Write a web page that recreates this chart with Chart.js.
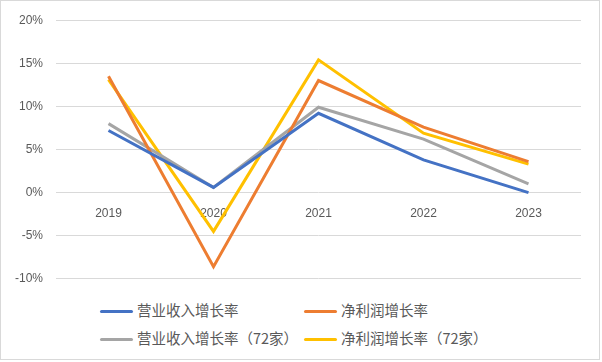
<!doctype html>
<html lang="zh">
<head>
<meta charset="utf-8">
<title>增长率</title>
<script src="https://cdn.jsdelivr.net/npm/chart.js@4.4.0/dist/chart.umd.min.js"></script>
<style>
  html, body { margin: 0; padding: 0; background: #fff; }
  #box { position: relative; width: 598px; height: 358px; border: 1px solid #d9d9d9; box-sizing: content-box; }
  #wrap { position: absolute; left: -1px; top: -1px; width: 602px; height: 299px; }
  .lg { position: absolute; font: 14.5px "Noto Sans CJK SC", sans-serif; color: #595959; white-space: nowrap; line-height: 18px; }
  .lg i { display: inline-block; width: 33px; height: 3px; border-radius: 2px; vertical-align: middle; margin-right: 4px; position: relative; top: -1px; }
</style>
</head>
<body>
<div id="box">
  <div id="wrap"><canvas id="c" width="602" height="299"></canvas></div>
  <div id="legend"></div>
</div>
<script>
var years = ["2019", "2020", "2021", "2022", "2023"];
var names = ["营业收入增长率", "净利润增长率", "营业收入增长率（72家）", "净利润增长率（72家）"];
var colors = ["#4472C4", "#ED7D31", "#A5A5A5", "#FFC000"];
var revenue = [7.2, 0.6, 9.2, 3.8, 0.0];
var profit = [13.5, -8.6, 13.0, 7.6, 3.6];
var revenue72 = [8.0, 0.6, 9.9, 6.2, 1.0];
var profit72 = [13.1, -4.5, 15.4, 6.9, 3.3];
var yTicks = [-10, -5, 0, 5, 10, 15, 20];

var series = [revenue, profit, revenue72, profit72];
var datasets = series.map(function(d, i) {
  return {
    label: names[i],
    data: d,
    borderColor: colors[i],
    backgroundColor: colors[i],
    borderWidth: 3,
    pointRadius: 0,
    tension: 0,
    fill: false
  };
});

new Chart(document.getElementById("c").getContext("2d"), {
  type: "line",
  data: { labels: years, datasets: datasets },
  options: {
    responsive: false,
    animation: false,
    layout: { padding: { top: 14, right: 21, bottom: 7, left: 0 } },
    plugins: { legend: { display: false }, tooltip: { enabled: false } },
    scales: {
      x: {
        position: { y: 0 },
        offset: true,
        grid: { display: false },
        border: { display: false },
        ticks: { color: "#595959", font: { family: "Liberation Sans", size: 12 }, padding: 6 }
      },
      y: {
        min: yTicks[0],
        max: yTicks[yTicks.length - 1],
        afterBuildTicks: function(s) { s.ticks = yTicks.map(function(v) { return { value: v }; }); },
        afterFit: function(s) { s.width = 56; },
        grid: { color: "#d9d9d9", drawTicks: false },
        border: { display: false },
        ticks: {
          color: "#595959",
          font: { family: "Liberation Sans", size: 12 },
          padding: 13,
          callback: function(v) { return v + "%"; }
        }
      }
    }
  }
});

var pos = [[99, 300], [303, 300], [99, 328], [303, 328]];
var lg = document.getElementById("legend");
names.forEach(function(n, i) {
  var el = document.createElement("div");
  el.className = "lg";
  el.style.left = pos[i][0] + "px";
  el.style.top = pos[i][1] + "px";
  el.innerHTML = '<i style="background:' + colors[i] + '"></i>' + n;
  lg.appendChild(el);
});
</script>
</body>
</html>
